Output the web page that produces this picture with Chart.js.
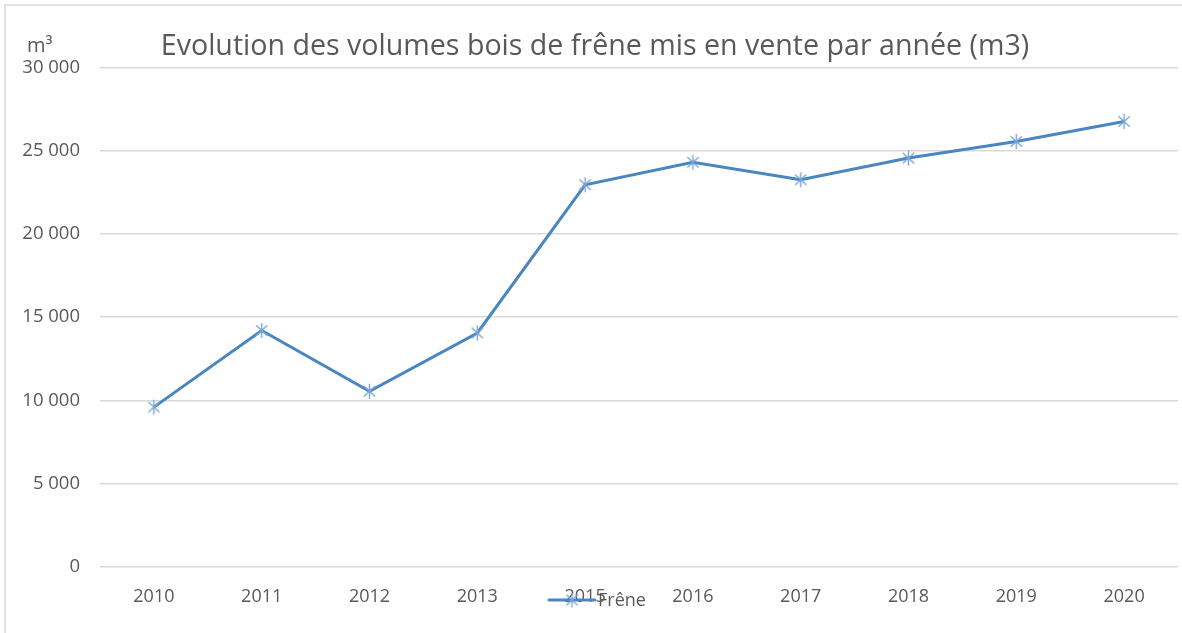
<!DOCTYPE html>
<html lang="fr">
<head>
<meta charset="utf-8">
<title>Frêne</title>
<script src="https://cdn.jsdelivr.net/npm/chart.js@4/dist/chart.umd.min.js"></script>
<style>
  html, body { margin: 0; padding: 0; background: #fff; }
  #wrap { width: 1182px; height: 633px; position: relative; }
</style>
</head>
<body>
<div id="wrap"><canvas id="chart" width="1182" height="633"></canvas></div>
<script>
// data
const years = ['2010', '2011', '2012', '2013', '2015', '2016', '2017', '2018', '2019', '2020'];
const volumes = [9600, 14200, 10550, 14050, 22950, 24300, 23250, 24550, 25550, 26750];
const seriesLabel = 'Frêne';
const chartTitle = 'Evolution des volumes bois de frêne mis en vente par année (m3)';
const unitLabel = 'm³';

const textColor = '#595959';
const lineColor = '#4a86bf';
const markColor = '#7aa6d6';
const fontFamily = '"Open Sans", "Noto Sans", sans-serif';

// Excel-like asterisk marker (vertical bar + X), drawn once on a small canvas
function makeMarker(r, color) {
    const size = r * 2 + 4;
    const c = document.createElement('canvas');
    c.width = size; c.height = size;
    const g = c.getContext('2d');
    const m = size / 2;
    g.strokeStyle = color;
    g.lineWidth = 1.4;
    g.beginPath();
    g.moveTo(m, m - r); g.lineTo(m, m + r);
    g.moveTo(m - r * 0.75, m - r * 0.7); g.lineTo(m + r * 0.75, m + r * 0.7);
    g.moveTo(m - r * 0.75, m + r * 0.7); g.lineTo(m + r * 0.75, m - r * 0.7);
    g.stroke();
    return c;
}
const marker = makeMarker(7.5, markColor);

// thin border round the frame (left + top only, like the screenshot)
const framePlugin = {
    id: 'frame',
    beforeDraw(chart) {
        const ctx = chart.ctx;
        ctx.save();
        ctx.fillStyle = '#fff';
        ctx.fillRect(0, 0, chart.width, chart.height);
        ctx.strokeStyle = '#d9d9d9';
        ctx.lineWidth = 1.5;
        ctx.beginPath();
        ctx.moveTo(5, chart.height);
        ctx.lineTo(5, 5);
        ctx.lineTo(chart.width, 5);
        ctx.stroke();
        ctx.restore();
    }
};

// unit label above the y axis and the legend sitting on the x labels
const extrasPlugin = {
    id: 'extras',
    afterDraw(chart) {
        const ctx = chart.ctx;
        const ds = chart.data.datasets[0];
        ctx.save();
        ctx.fillStyle = textColor;
        ctx.font = '20px ' + fontFamily;
        ctx.textAlign = 'left';
        ctx.textBaseline = 'alphabetic';
        ctx.fillText(unitLabel, 27, 52);

        // legend
        const cx = 572, cy = 600;
        ctx.strokeStyle = ds.borderColor;
        ctx.lineWidth = ds.borderWidth;
        ctx.lineCap = 'round';
        ctx.beginPath();
        ctx.moveTo(cx - 23, cy);
        ctx.lineTo(cx + 23, cy);
        ctx.stroke();
        ctx.drawImage(marker, cx - marker.width / 2, cy - marker.height / 2);
        ctx.fillStyle = textColor;
        ctx.font = '18px ' + fontFamily;
        ctx.textBaseline = 'middle';
        ctx.fillText(ds.label, 598, cy + 1);
        ctx.restore();
    }
};

new Chart(document.getElementById('chart'), {
    type: 'line',
    data: {
        labels: years,
        datasets: [{
            label: seriesLabel,
            data: volumes,
            borderColor: lineColor,
            borderWidth: 3,
            tension: 0,
            pointStyle: marker,
            pointRadius: 8,
            pointHoverRadius: 8
        }]
    },
    options: {
        responsive: false,
        animation: false,
        events: [],
        // negative right padding nudges the centred title to the right
        layout: { autoPadding: false, padding: { left: 0, right: -8, top: 0, bottom: 0 } },
        plugins: {
            legend: { display: false },
            tooltip: { enabled: false },
            title: {
                display: true,
                text: chartTitle,
                color: textColor,
                font: { family: fontFamily, size: 28.6, weight: 'normal' },
                padding: { top: 30, bottom: 3 }
            }
        },
        scales: {
            x: {
                offset: true,
                grid: { display: false, drawTicks: false },
                border: { display: false },
                ticks: {
                    color: textColor,
                    font: { family: fontFamily, size: 18 },
                    padding: 19,
                    maxRotation: 0
                },
                afterFit(scale) {
                    scale.height = 66;
                    scale.paddingLeft = 0;
                    scale.paddingRight = 4;
                }
            },
            y: {
                min: 0,
                max: 30000,
                grid: { color: '#d9d9d9', lineWidth: 1.5, drawTicks: false },
                border: { display: false },
                ticks: {
                    stepSize: 5000,
                    color: textColor,
                    font: { family: fontFamily, size: 18.5 },
                    padding: 20,
                    callback: (v) => v >= 1000 ? Math.floor(v / 1000) + ' ' + String(v % 1000).padStart(3, '0') : String(v)
                },
                afterFit(scale) { scale.width = 100; }
            }
        }
    },
    plugins: [framePlugin, extrasPlugin]
});
</script>
</body>
</html>
